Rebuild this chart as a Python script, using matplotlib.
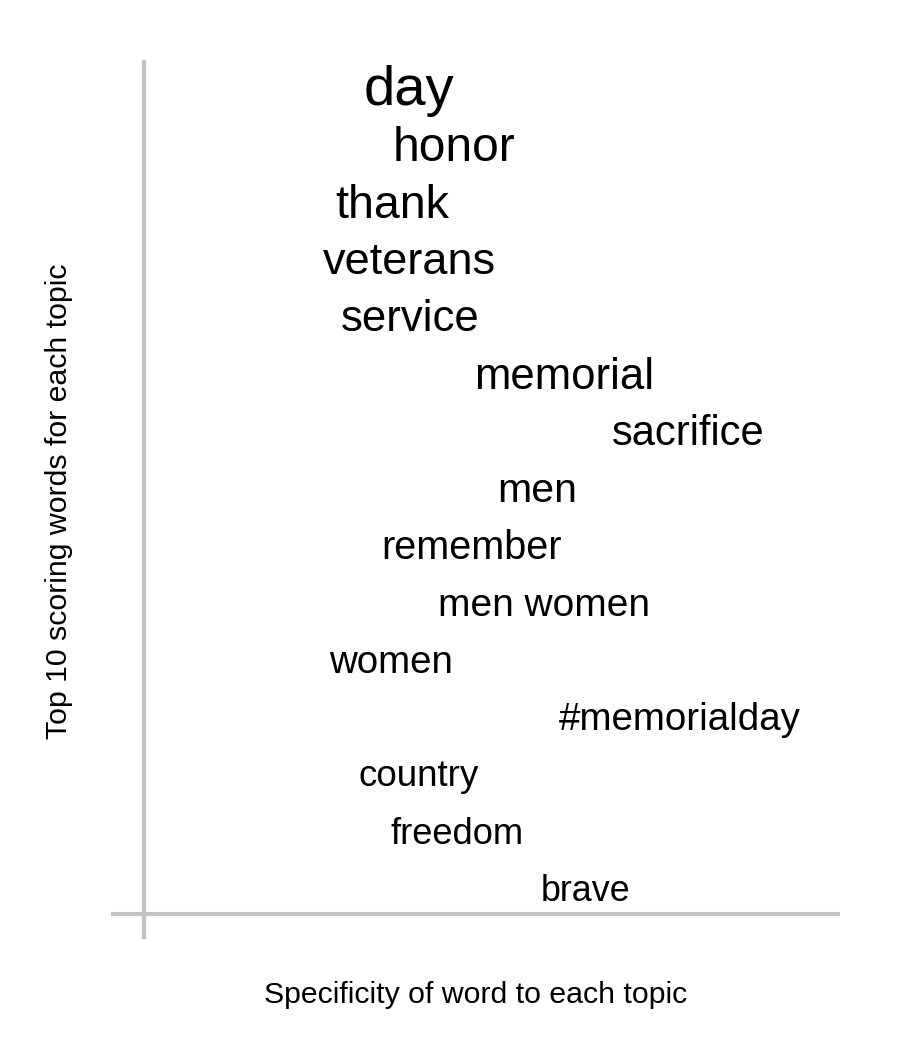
import matplotlib
matplotlib.use("Agg")
import matplotlib.pyplot as plt

plt.rcParams['font.family'] = ['Liberation Sans', 'DejaVu Sans']

# top scoring words, from highest to lowest score
words = ["day", "honor", "thank", "veterans", "service", "memorial",
         "sacrifice", "men", "remember", "men women", "women",
         "#memorialday", "country", "freedom", "brave"]
# specificity of each word to the topic (0 = general, 1 = specific)
specificity = [0.380, 0.445, 0.356, 0.381, 0.383, 0.603, 0.782, 0.565,
               0.470, 0.575, 0.355, 0.770, 0.394, 0.450, 0.634]
# score shown by text size
score = [40.5, 34.5, 33.5, 32.5, 31.5, 31.5, 30.0, 29.5,
         28.5, 28.0, 27.7, 27.7, 26.5, 26.2, 25.8]

rank = list(range(len(words), 0, -1))

fig = plt.figure(figsize=(9, 10.5), dpi=100)
ax = fig.add_axes([144/900, (1050-913.5)/1050, 696/900, 853.5/1050])

for w, x, y, s in zip(words, specificity, rank, score):
    ax.text(x, y, w, fontsize=s, ha='center', va='center', color='black')

ax.set_xlim(0, 1)
ax.set_ylim(0.61, 15.55)
ax.axis('off')

grey = '#c3c3c3'
# axis lines, the vertical one runs past the horizontal one
ax.plot([0, 0], [1, -25.5/853.5], transform=ax.transAxes, color=grey,
        lw=3, clip_on=False, solid_capstyle='butt')
ax.plot([-33/696, 1], [0, 0], transform=ax.transAxes, color=grey,
        lw=3, clip_on=False, solid_capstyle='butt')

fig.text(476/900, (1050-1003)/1050, "Specificity of word to each topic",
         fontsize=21.8, ha='center', va='baseline')
fig.text(59/900, (1050-501)/1050, "Top 10 scoring words for each topic",
         fontsize=21.8, ha='center', va='center', rotation=90)

fig.savefig("out.png", dpi=100)
